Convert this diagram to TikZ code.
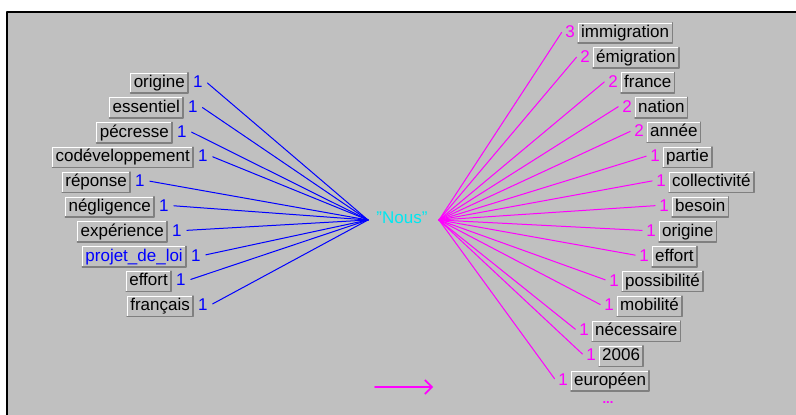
\documentclass[tikz,border=0pt]{standalone}
\usepackage{fontspec}
\setmainfont{Liberation Sans}
\usetikzlibrary{arrows.meta,positioning}
\definecolor{panel}{HTML}{C0C0C0}
\definecolor{bevel}{HTML}{808080}
\definecolor{leftink}{HTML}{0000FF}
\definecolor{rightink}{HTML}{FF00FF}
\definecolor{hubink}{HTML}{00E8F0}

\begin{document}
\begin{tikzpicture}[x=1pt,y=-1pt,line cap=round,line join=round,font=\fontsize{17}{18}\selectfont]
  \tikzset{
    word/.style={fill=panel,text=black,inner xsep=3pt,inner ysep=0pt,minimum height=20pt,text height=13pt,text depth=4pt},
    count/.style={inner xsep=3pt,inner ysep=1pt},
    linkL/.style={leftink,line width=1pt},
    linkR/.style={rightink,line width=1pt}
  }
  \useasboundingbox (0,0) rectangle (796,415);

  % Window panel and frame.
  \fill[panel] (8,13) rectangle (796,415);
  \draw[black,line width=2.5pt,line cap=butt] (7,415) |- (796,12);

  % Centre word.
  \coordinate (hubL) at (368,220);
  \coordinate (hubR) at (439,220);
  \node[text=hubink] (nous) at (402,218) {"Nous"};

  % Left words.
  \foreach \word/\rx/\tc [count=\i, evaluate=\i as \y using 58.2+24.8*\i] in
    {origine/188/black, essentiel/183/black, pécresse/172/black,
     codéveloppement/193/black, réponse/130/black, négligence/154/black,
     expérience/167/black, projet\_de\_loi/186/leftink, effort/171/black,
     français/193/black}{
    \node[word,text=\tc,anchor=east] (L\i) at (\rx,\y) {\word};
    \draw[white] (L\i.south west) |- (L\i.north east);
    \draw[bevel,line width=1.5pt] (L\i.south west) -| (L\i.north east);
    \node[count,text=leftink,base right=2pt of L\i] (Ln\i) {1};
    \draw[linkL,shorten <=2pt] (Ln\i.east) -- (hubL);
  }

  % Right words.
  \foreach \word/\lx/\n [count=\i, evaluate=\i as \y using 8.15+24.85*\i] in
    {immigration/578/3, émigration/593/2, france/621/2, nation/635/2,
     année/647/2, partie/663/1, collectivité/669/1, besoin/672/1,
     origine/659/1, effort/652/1, possibilité/622/1, mobilité/617/1,
     nécessaire/592/1, 2006/599/1, européen/571/1}{
    \node[word,anchor=west] (R\i) at (\lx,\y) {\word};
    \draw[white] (R\i.south west) |- (R\i.north east);
    \draw[bevel,line width=1.5pt] (R\i.south west) -| (R\i.north east);
    \node[count,text=rightink,base left=0pt of R\i] (Rn\i) {\n};
    \draw[linkR,shorten >=1pt] (hubR) -- (Rn\i.west);
  }
  \node[text=rightink,font=\fontsize{13}{13}\bfseries] (more) at (608,403) {...};

  % Legend arrow.
  \coordinate (keyA) at (375,387);
  \coordinate (keyB) at (433,387);
  \draw[rightink,line width=1.6pt,-{Straight Barb[length=7pt,width=14pt]}] (keyA) -- (keyB);
\end{tikzpicture}
\end{document}
